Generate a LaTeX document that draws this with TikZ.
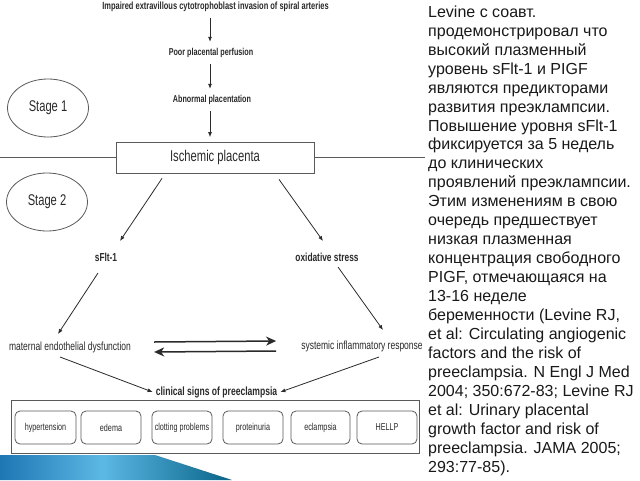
\documentclass[tikz,border=0pt]{standalone}
\usepackage{fontspec}
\setmainfont{Liberation Sans}
\newfontfamily\nar[FakeStretch=0.72]{Liberation Sans}
\usetikzlibrary{arrows.meta,shapes.geometric}
\definecolor{ink}{HTML}{2A2A2A}
\definecolor{edge}{HTML}{5A5A5A}
\definecolor{bA}{RGB}{30,118,180}
\definecolor{bB}{RGB}{92,184,228}
\definecolor{bC}{RGB}{8,100,136}
\pgfdeclarehorizontalshading{wedgeshade}{100bp}{color(0bp)=(bA); color(25bp)=(bA); color(47bp)=(bB); color(75bp)=(bC); color(100bp)=(bC)}
\tikzset{
  lbl/.style={text=ink, inner sep=2pt, font=\nar\fontsize{11.8}{13}\selectfont},
  lblb/.style={text=ink, inner sep=2pt, font=\nar\bfseries\fontsize{10}{12}\selectfont, minimum height=22pt},
  lblbb/.style={text=ink, inner sep=2pt, font=\nar\bfseries\fontsize{11.6}{13}\selectfont},
  stage/.style={ellipse, draw=edge, line width=0.8pt, inner sep=0pt, minimum width=81pt, minimum height=58pt, text=ink, font=\nar\fontsize{15.5}{17}\selectfont},
  sign/.style={draw=edge, rounded corners=5pt, line width=0.8pt, minimum height=33pt, inner sep=0pt, text=ink, font=\nar\fontsize{10}{12}\selectfont},
  arr/.style={draw=ink, line width=0.8pt, -{Latex[length=5pt,width=4pt]}},
  bigarr/.style={draw=ink, line width=1.5pt, -{Stealth[length=10pt,width=9pt,inset=3pt]}},
}
\begin{document}
\begin{tikzpicture}[x=1pt,y=-1pt]
\useasboundingbox (0,0) rectangle (640,480);
\fill[white] (0,0) rectangle (640,480);
% blue wedge
\shade[shading=wedgeshade] (0,455) -- (155,455) -- (232,480) -- (0,480) -- cycle;
% stage ellipses
\node[stage] (s1) at (48,108) {Stage 1};
\node[stage] (s2) at (47,202) {Stage 2};
% top chain
\coordinate (ax) at (210,0);
\node[lblb, font=\nar\bfseries\fontsize{10.4}{12}\selectfont] (t1) at (215.5,7) {Impaired extravillous cytotrophoblast invasion of spiral arteries};
\node[lblb] (t2) at (211,53) {Poor placental perfusion};
\node[lblb] (t3) at (212,100) {Abnormal placentation};
\node[draw=edge, line width=0.8pt, minimum width=198pt, minimum height=31pt, inner sep=0pt, text=ink, font=\nar\fontsize{15.6}{17}\selectfont] (isch) at (215,157.5) {Ischemic placenta};
\draw[arr] (t1.south -| ax) -- (t2.north -| ax);
\draw[arr] (t2.south -| ax) -- (t3.north -| ax);
\draw[arr, shorten >=4.5pt] (t3.south -| ax) -- (isch.north -| ax);
% divider line
\coordinate (hl) at (0,157);
\coordinate (hr) at (425,157);
\draw[edge, line width=0.8pt] (hl) -- (isch.west |- hl);
\draw[edge, line width=0.8pt] (isch.east |- hr) -- (hr);
% stage 2
\node[lblbb] (sflt) at (106,257) {sFlt-1};
\node[lblbb] (oxid) at (327,257) {oxidative stress};
\node[lbl] (mat) at (70,347) {maternal endothelial dysfunction};
\node[lbl] (sys) at (362,346) {systemic inflammatory response};
\node[text=ink, inner sep=3pt, font=\nar\bfseries\fontsize{11.9}{13}\selectfont] (clin) at (216.5,392) {clinical signs of preeclampsia};
\draw[arr] ([xshift=-53pt,yshift=-5pt]isch.south) -- ([xshift=14pt,yshift=16pt]sflt.center);
\draw[arr] ([xshift=64pt,yshift=-6pt]isch.south) -- ([xshift=-4pt,yshift=16pt]oxid.center);
\draw[arr] ([xshift=-8pt,yshift=-16pt]sflt.center) -- ([xshift=-12pt,yshift=13pt]mat.center);
\draw[arr] ([xshift=11pt,yshift=-10pt]oxid.center) -- ([xshift=21pt,yshift=16pt]sys.center);
\draw[arr] ([xshift=-10pt,yshift=-10pt]mat.center) -- (clin.west);
\draw[arr] ([xshift=17pt,yshift=-11pt]sys.center) -- (clin.east);
\draw[bigarr] ([yshift=5pt,xshift=21pt]mat.east) -- ([yshift=5pt,xshift=-23pt]sys.west);
\draw[bigarr] ([yshift=-5pt,xshift=-23pt]sys.west) -- ([yshift=-5pt,xshift=21pt]mat.east);
% signs row
\node[draw=edge, line width=0.8pt, minimum width=408pt, minimum height=53pt, inner sep=0pt] (row) at (215,426.5) {};
\node[sign, minimum width=61pt] (hyp) at (45.5,427.5) {hypertension};
\node[sign, minimum width=60pt] (ede) at (111,427.5) {edema};
\node[sign, minimum width=60pt] (clo) at (182,427.5) {clotting problems};
\node[sign, minimum width=60pt] (pro) at (253,427.5) {proteinuria};
\node[sign, minimum width=59pt] (ecl) at (320.5,427.5) {eclampsia};
\node[sign, minimum width=60pt] (hel) at (387,427.5) {HELLP};
% right text
\node[anchor=north west, inner sep=0pt, align=left, text=black!90, font=\fontsize{16}{18.95}\selectfont] (note) at (428,5.5) {Levine с соавт.\\
продемонстрировал что\\
высокий плазменный\\
уровень sFlt-1 и PIGF\\
являются предикторами\\
развития преэклампсии.\\
Повышение уровня sFlt-1\\
фиксируется за 5 недель\\
до клинических\\
проявлений преэклампсии.\\
Этим изменениям в свою\\
очередь предшествует\\
низкая плазменная\\
концентрация свободного\\
PIGF, отмечающаяся на\\
13-16 неделе\\
беременности (Levine RJ,\\
et al: Circulating angiogenic\\
factors and the risk of\\
preeclampsia. N Engl J Med\\
2004; 350:672-83; Levine RJ\\
et al: Urinary placental\\
growth factor and risk of\\
preeclampsia. JAMA 2005;\\
293:77-85).};
\end{tikzpicture}
\end{document}
